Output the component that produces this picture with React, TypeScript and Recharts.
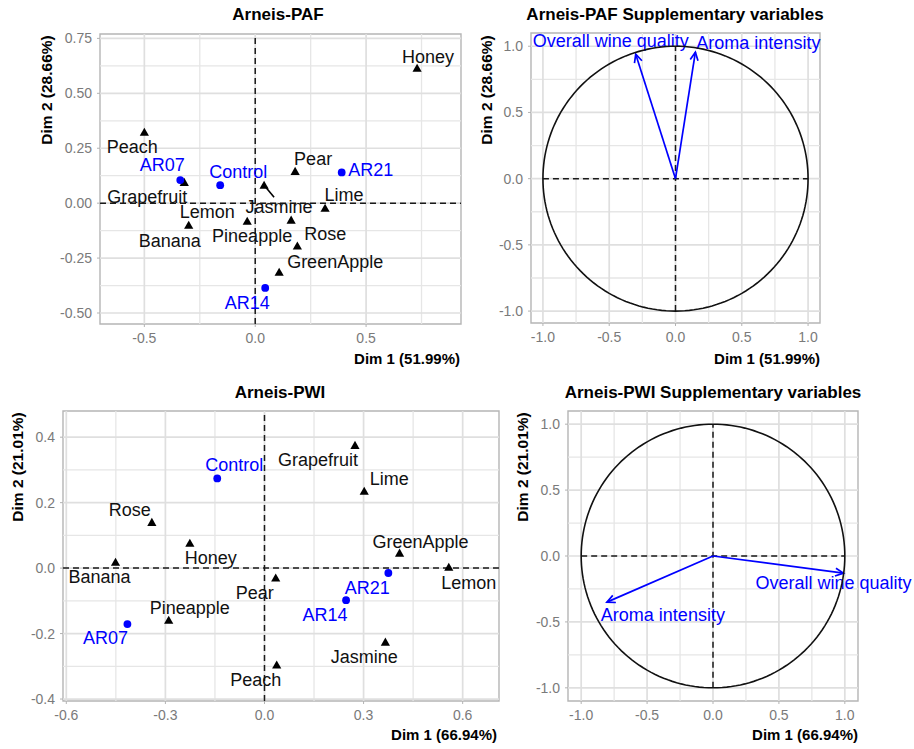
import React from 'react';
import { ScatterChart, Scatter, XAxis, YAxis, ReferenceLine, ReferenceArea } from 'recharts';

const FONT = '"Liberation Sans", Arial, Helvetica, sans-serif';

// ---------- Arneis-PAF (individuals / attributes) ----------
const pafAttrNames = ['Honey', 'Peach', 'Pear', 'Grapefruit', 'Jasmine', 'Lime', 'Lemon', 'Banana', 'Pineapple', 'Rose', 'GreenApple'];
const pafAttrDim1 = [0.73, -0.5, 0.18, -0.32, 0.04, 0.315, -0.036, -0.3, 0.162, 0.19, 0.108];
const pafAttrDim2 = [0.614, 0.323, 0.145, 0.095, 0.082, -0.023, -0.082, -0.1, -0.077, -0.195, -0.314];
const pafSampleNames = ['AR21', 'AR07', 'Control', 'AR14'];
const pafSampleDim1 = [0.39, -0.338, -0.158, 0.045];
const pafSampleDim2 = [0.14, 0.105, 0.082, -0.386];

// ---------- Arneis-PAF supplementary variables ----------
const supNames = ['Overall wine quality', 'Aroma intensity'];
const pafSupDim1 = [-0.3, 0.15];
const pafSupDim2 = [0.94, 0.955];

// ---------- Arneis-PWI ----------
const pwiAttrNames = ['Grapefruit', 'Lime', 'GreenApple', 'Lemon', 'Rose', 'Honey', 'Banana', 'Pear', 'Pineapple', 'Jasmine', 'Peach'];
const pwiAttrDim1 = [0.274, 0.302, 0.409, 0.558, -0.341, -0.226, -0.451, 0.034, -0.29, 0.366, 0.037];
const pwiAttrDim2 = [0.375, 0.235, 0.046, 0.003, 0.14, 0.076, 0.018, -0.03, -0.159, -0.226, -0.296];
const pwiSampleNames = ['Control', 'AR21', 'AR14', 'AR07'];
const pwiSampleDim1 = [-0.143, 0.375, 0.247, -0.415];
const pwiSampleDim2 = [0.274, -0.015, -0.098, -0.171];

// ---------- Arneis-PWI supplementary variables ----------
const pwiSupDim1 = [0.99, -0.805];
const pwiSupDim2 = [-0.13, -0.35];

// axis tick definitions
const pafXMajor = [-0.5, 0, 0.5];
const pafXMinor = [-0.75, -0.25, 0.25, 0.75];
const pafYMajor = [-0.5, -0.25, 0, 0.25, 0.5, 0.75];
const pafYMinor = [-0.375, -0.125, 0.125, 0.375, 0.625];
const circMajor = [-1, -0.5, 0, 0.5, 1];
const circMinor = [-0.75, -0.25, 0.25, 0.75];
const pwiXMajor = [-0.6, -0.3, 0, 0.3, 0.6];
const pwiXMinor = [-0.45, -0.15, 0.15, 0.45];
const pwiYMajor = [-0.4, -0.2, 0, 0.2, 0.4];
const pwiYMinor = [-0.3, -0.1, 0.1, 0.3];

// label placement (repel-like offsets, in px)
const pafOffsets: Record<string, [number, number]> = {
  Honey: [11, -11], Peach: [-12, 15], Pear: [18, -12], Grapefruit: [-37, 15], Jasmine: [15, 22],
  Lime: [19, -13], Lemon: [-40, -9], Banana: [-19, 16], Pineapple: [-39, 16], Rose: [28, -12],
  GreenApple: [56, -10], AR21: [29, -2], AR07: [-18, -15], Control: [18, -13], AR14: [-18, 15],
};
const pafConnectors: Record<string, [number, number]> = { Jasmine: [10, 12] };
const pwiOffsets: Record<string, [number, number]> = {
  Grapefruit: [-37, 15], Lime: [25, -12], GreenApple: [21, -11], Lemon: [20, 16], Rose: [-22, -12],
  Honey: [21, 15], Banana: [-16, 15], Pear: [-21, 15], Pineapple: [21, -12], Jasmine: [-21, 15],
  Peach: [-21, 15], Control: [17, -13], AR21: [-21, 15], AR14: [-21, 15], AR07: [-22, 14],
};
const pafSupOffsets: Record<string, [number, number]> = { 'Overall wine quality': [-25, -13], 'Aroma intensity': [63, -9] };
const pwiSupOffsets: Record<string, [number, number]> = { 'Overall wine quality': [-10, 10], 'Aroma intensity': [56, 13] };

const toPoints = (names: string[], xs: number[], ys: number[]) => names.map((n, i) => ({ name: n, x: xs[i], y: ys[i] }));

// correlation circle (unit circle geometry)
const circleAngles = Array.from({ length: 181 }, (_, i) => (i * 2 * Math.PI) / 180);
const unitCircle = circleAngles.map((a) => ({ x: Math.cos(a), y: Math.sin(a) }));

const BLUE = '#0000ff';
const LABEL_SIZE = 18;

const makePointShape = (kind: 'tri' | 'dot', offsets: Record<string, [number, number]>, connectors: Record<string, [number, number]> = {}) =>
  (props: any) => {
    const { cx, cy, payload } = props;
    if (cx == null || cy == null) return <g />;
    const [dx, dy] = offsets[payload.name] || [0, 0];
    const conn = connectors[payload.name];
    const color = kind === 'tri' ? '#111' : BLUE;
    return (
      <g>
        {conn && <line x1={cx} y1={cy} x2={cx + conn[0]} y2={cy + conn[1]} stroke="#000" strokeWidth={1.6} />}
        {kind === 'tri' ? (
          <path d={`M${cx},${cy - 4.5} L${cx + 4.6},${cy + 3.6} L${cx - 4.6},${cy + 3.6} Z`} fill="#000" />
        ) : (
          <circle cx={cx} cy={cy} r={3.9} fill={BLUE} />
        )}
        <text x={cx + dx} y={cy + dy} textAnchor="middle" dominantBaseline="central" fontSize={LABEL_SIZE} fill={color} fontFamily={FONT}>
          {payload.name}
        </text>
      </g>
    );
  };

const makeArrowShape = (label: string, offsets: Record<string, [number, number]>) => (props: any) => {
  const { x1, y1, x2, y2 } = props;
  if ([x1, y1, x2, y2].some((v) => v == null || Number.isNaN(v))) return <g />;
  const ang = Math.atan2(y2 - y1, x2 - x1);
  const L = 9;
  const a = Math.PI / 7;
  const p1 = [x2 - L * Math.cos(ang - a), y2 - L * Math.sin(ang - a)];
  const p2 = [x2 - L * Math.cos(ang + a), y2 - L * Math.sin(ang + a)];
  const [dx, dy] = offsets[label] || [0, 0];
  return (
    <g>
      <line x1={x1} y1={y1} x2={x2} y2={y2} stroke={BLUE} strokeWidth={1.7} />
      <polyline points={`${p1[0]},${p1[1]} ${x2},${y2} ${p2[0]},${p2[1]}`} fill="none" stroke={BLUE} strokeWidth={1.7} />
      <text x={x2 + dx} y={y2 + dy} textAnchor="middle" dominantBaseline="central" fontSize={LABEL_SIZE} fill={BLUE} fontFamily={FONT}>
        {label}
      </text>
    </g>
  );
};

type AxisDef = { domain: [number, number]; major: number[]; minor: number[]; digits: number };

const tickStyle = { fill: '#7a7a7a', fontSize: 14, fontFamily: FONT };

const gridEls = (xa: AxisDef, ya: AxisDef, p: string) => [
  ...xa.minor.map((v) => <ReferenceLine key={`${p}xm${v}`} x={v} stroke="#e6e6e6" strokeWidth={1.3} />),
  ...ya.minor.map((v) => <ReferenceLine key={`${p}ym${v}`} y={v} stroke="#e6e6e6" strokeWidth={1.3} />),
  ...xa.major.map((v) => <ReferenceLine key={`${p}xM${v}`} x={v} stroke="#dfdfdf" strokeWidth={1.7} />),
  ...ya.major.map((v) => <ReferenceLine key={`${p}yM${v}`} y={v} stroke="#dfdfdf" strokeWidth={1.7} />),
  <ReferenceArea key={`${p}border`} x1={xa.domain[0]} x2={xa.domain[1]} y1={ya.domain[0]} y2={ya.domain[1]} fill="none" fillOpacity={0} stroke="#b5b5b5" strokeWidth={1.4} />,
];

const axesEls = (xa: AxisDef, ya: AxisDef, yWidth: number) => [
  <XAxis key="x" type="number" dataKey="x" domain={xa.domain} ticks={xa.major} interval={0} allowDataOverflow axisLine={false}
    tickLine={{ stroke: '#b3b3b3' }} tickSize={3} tickMargin={6} height={30} tick={tickStyle}
    tickFormatter={(v: number) => v.toFixed(xa.digits)} />,
  <YAxis key="y" type="number" dataKey="y" domain={ya.domain} ticks={ya.major} interval={0} allowDataOverflow axisLine={false}
    tickLine={{ stroke: '#b3b3b3' }} tickSize={3} tickMargin={5} width={yWidth} tick={tickStyle}
    tickFormatter={(v: number) => v.toFixed(ya.digits)} />,
];

const Title = ({ x, y, text }: { x: number; y: number; text: string }) => (
  <div style={{ position: 'absolute', left: x, top: y, transform: 'translate(-50%, -50%)', fontWeight: 'bold', fontSize: 17, whiteSpace: 'nowrap', color: '#000' }}>{text}</div>
);
const XTitle = ({ right, y, text }: { right: number; y: number; text: string }) => (
  <div style={{ position: 'absolute', left: right, top: y, transform: 'translate(-100%, -50%)', fontWeight: 'bold', fontSize: 15, whiteSpace: 'nowrap', color: '#000' }}>{text}</div>
);
const YTitle = ({ x, y, text }: { x: number; y: number; text: string }) => (
  <div style={{ position: 'absolute', left: x, top: y, transform: 'translate(-50%, -50%) rotate(-90deg)', fontWeight: 'bold', fontSize: 15.5, whiteSpace: 'nowrap', color: '#000' }}>{text}</div>
);

const pafX: AxisDef = { domain: [-0.7, 0.928], major: pafXMajor, minor: pafXMinor, digits: 1 };
const pafY: AxisDef = { domain: [-0.55, 0.77], major: pafYMajor, minor: pafYMinor, digits: 2 };
const pafSupX: AxisDef = { domain: [-1.09, 1.09], major: circMajor, minor: circMinor, digits: 1 };
const pafSupY: AxisDef = { domain: [-1.09, 1.1], major: circMajor, minor: circMinor, digits: 1 };
const pwiX: AxisDef = { domain: [-0.61, 0.71], major: pwiXMajor, minor: pwiXMinor, digits: 1 };
const pwiY: AxisDef = { domain: [-0.406, 0.48], major: pwiYMajor, minor: pwiYMinor, digits: 1 };
const pwiSupX: AxisDef = { domain: [-1.1, 1.1], major: circMajor, minor: circMinor, digits: 1 };
const pwiSupY: AxisDef = { domain: [-1.1, 1.1], major: circMajor, minor: circMinor, digits: 1 };

const dash = { stroke: '#1a1a1a', strokeWidth: 1.5, strokeDasharray: '6 4' };

export default function App() {
  const pafAttr = toPoints(pafAttrNames, pafAttrDim1, pafAttrDim2);
  const pafSamp = toPoints(pafSampleNames, pafSampleDim1, pafSampleDim2);
  const pwiAttr = toPoints(pwiAttrNames, pwiAttrDim1, pwiAttrDim2);
  const pwiSamp = toPoints(pwiSampleNames, pwiSampleDim1, pwiSampleDim2);

  return (
    <div style={{ position: 'absolute', left: 0, top: 0, width: 914, height: 749, background: '#fff', fontFamily: FONT, overflow: 'hidden' }}>
      {/* Panel 1 */}
      <div style={{ position: 'absolute', left: 0, top: 0 }}>
        <ScatterChart width={470} height={372} margin={{ top: 34, right: 9, bottom: 18, left: 50 }}>
          {gridEls(pafX, pafY, 'a')}
          {axesEls(pafX, pafY, 50)}
          <ReferenceLine x={0} {...dash} />
          <ReferenceLine y={0} {...dash} />
          <Scatter data={pafAttr} isAnimationActive={false} shape={makePointShape('tri', pafOffsets, pafConnectors)} />
          <Scatter data={pafSamp} isAnimationActive={false} shape={makePointShape('dot', pafOffsets)} />
        </ScatterChart>
      </div>
      {/* Panel 2 */}
      <div style={{ position: 'absolute', left: 470, top: 0 }}>
        <ScatterChart width={444} height={372} margin={{ top: 33, right: 94, bottom: 19, left: 21 }}>
          {gridEls(pafSupX, pafSupY, 'b')}
          {axesEls(pafSupX, pafSupY, 40)}
          <ReferenceLine segment={[{ x: -1, y: 0 }, { x: 1, y: 0 }]} {...dash} />
          <ReferenceLine segment={[{ x: 0, y: -1 }, { x: 0, y: 1 }]} {...dash} />
          <Scatter data={unitCircle} isAnimationActive={false} line={{ stroke: '#111', strokeWidth: 1.6 }} lineType="joint" shape={() => <g />} />
          {supNames.map((n, i) => (
            <ReferenceLine key={`ps${n}`} segment={[{ x: 0, y: 0 }, { x: pafSupDim1[i], y: pafSupDim2[i] }]} shape={makeArrowShape(n, pafSupOffsets)} />
          ))}
        </ScatterChart>
      </div>
      {/* Panel 3 */}
      <div style={{ position: 'absolute', left: 0, top: 372 }}>
        <ScatterChart width={510} height={377} margin={{ top: 39, right: 11, bottom: 18, left: 23 }}>
          {gridEls(pwiX, pwiY, 'c')}
          {axesEls(pwiX, pwiY, 40)}
          <ReferenceLine x={0} {...dash} />
          <ReferenceLine y={0} {...dash} />
          <Scatter data={pwiAttr} isAnimationActive={false} shape={makePointShape('tri', pwiOffsets)} />
          <Scatter data={pwiSamp} isAnimationActive={false} shape={makePointShape('dot', pwiOffsets)} />
        </ScatterChart>
      </div>
      {/* Panel 4 */}
      <div style={{ position: 'absolute', left: 510, top: 372 }}>
        <ScatterChart width={404} height={377} margin={{ top: 39, right: 56, bottom: 18, left: 18 }}>
          {gridEls(pwiSupX, pwiSupY, 'd')}
          {axesEls(pwiSupX, pwiSupY, 40)}
          <ReferenceLine segment={[{ x: -1, y: 0 }, { x: 1, y: 0 }]} {...dash} />
          <ReferenceLine segment={[{ x: 0, y: -1 }, { x: 0, y: 1 }]} {...dash} />
          <Scatter data={unitCircle} isAnimationActive={false} line={{ stroke: '#111', strokeWidth: 1.6 }} lineType="joint" shape={() => <g />} />
          {supNames.map((n, i) => (
            <ReferenceLine key={`ws${n}`} segment={[{ x: 0, y: 0 }, { x: pwiSupDim1[i], y: pwiSupDim2[i] }]} shape={makeArrowShape(n, pwiSupOffsets)} />
          ))}
        </ScatterChart>
      </div>

      <Title x={278} y={15} text="Arneis-PAF" />
      <Title x={675} y={15} text="Arneis-PAF Supplementary variables" />
      <Title x={280} y={393} text="Arneis-PWI" />
      <Title x={713} y={393} text="Arneis-PWI Supplementary variables" />

      <XTitle right={460} y={358} text="Dim 1 (51.99%)" />
      <XTitle right={820} y={358} text="Dim 1 (51.99%)" />
      <XTitle right={497} y={734} text="Dim 1 (66.94%)" />
      <XTitle right={858} y={734} text="Dim 1 (66.94%)" />

      <YTitle x={47} y={90} text="Dim 2 (28.66%)" />
      <YTitle x={487} y={90} text="Dim 2 (28.66%)" />
      <YTitle x={18} y={467} text="Dim 2 (21.01%)" />
      <YTitle x={523} y={467} text="Dim 2 (21.01%)" />
    </div>
  );
}
